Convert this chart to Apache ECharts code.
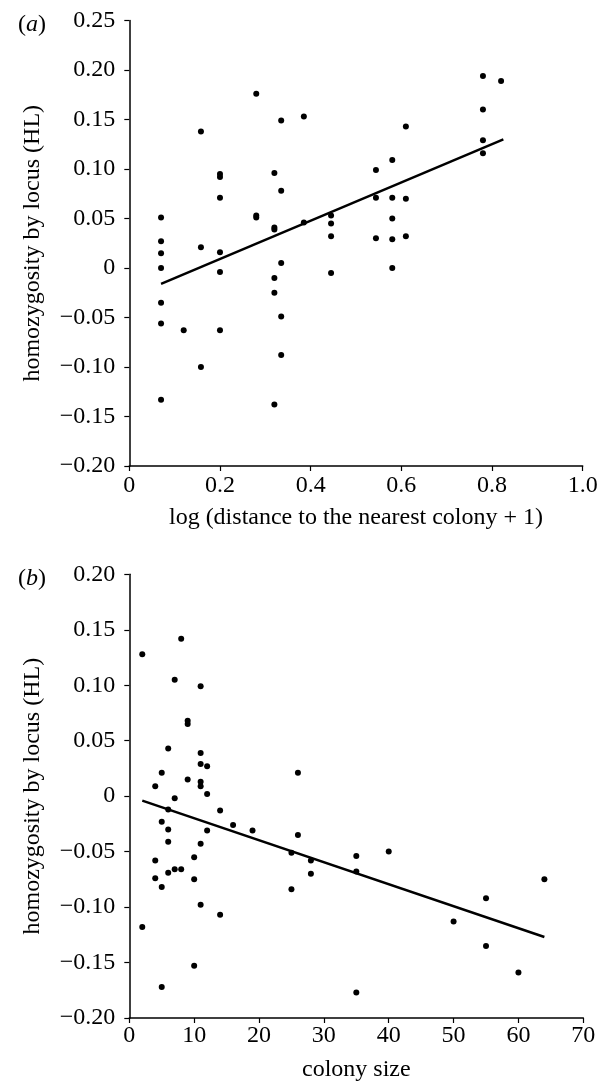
<!DOCTYPE html>
<html>
<head>
<meta charset="utf-8">
<script src="https://cdn.jsdelivr.net/npm/echarts@6/dist/echarts.min.js"></script>
<style>html,body{margin:0;padding:0;background:#fff}#c{width:607px;height:1083px}</style>
</head>
<body>
<div id="c"></div>
<script>
// Panel (a): log(distance to nearest colony + 1) vs HL
const distA = [0.07,0.07,0.07,0.07,0.07,0.07,0.07,0.12,0.158,0.158,0.158,0.20,0.20,0.20,0.20,0.20,0.20,0.28,0.28,0.28,0.32,0.32,0.32,0.32,0.32,0.32,0.335,0.335,0.335,0.335,0.335,0.385,0.385,0.445,0.445,0.445,0.445,0.544,0.544,0.544,0.58,0.58,0.58,0.58,0.58,0.61,0.61,0.61,0.78,0.78,0.78,0.78,0.82];
const hlA   = [0.051,0.027,0.015,0.000,-0.035,-0.056,-0.133,-0.063,0.138,0.021,-0.100,0.095,0.092,0.071,0.016,-0.004,-0.063,0.176,0.053,0.051,0.096,0.041,0.039,-0.010,-0.025,-0.138,0.149,0.078,0.005,-0.049,-0.088,0.153,0.046,0.053,0.045,0.032,-0.005,0.099,0.071,0.030,0.109,0.071,0.050,0.029,0.000,0.143,0.070,0.032,0.194,0.160,0.129,0.116,0.189];
const fitAx = [0.07, 0.825];
const fitAy = [-0.016, 0.130];

// Panel (b): colony size vs HL
const sizeB = [2,2,4,4,4,5,5,5,5,6,6,6,6,6,7,7,7,8,8,9,9,9,10,10,10,11,11,11,11,11,11,11,12,12,12,14,14,16,19,25,25,26,26,28,28,35,35,35,40,50,55,55,60,64];
const hlB   = [0.128,-0.118,0.009,-0.058,-0.074,0.021,-0.023,-0.082,-0.172,0.043,-0.012,-0.030,-0.041,-0.069,0.105,-0.002,-0.066,0.142,-0.066,0.068,0.065,0.015,-0.055,-0.075,-0.153,0.099,0.039,0.029,0.013,0.009,-0.043,-0.098,0.027,0.002,-0.031,-0.013,-0.107,-0.026,-0.031,-0.051,-0.084,0.021,-0.035,-0.058,-0.070,-0.054,-0.068,-0.177,-0.050,-0.113,-0.092,-0.135,-0.159,-0.075];
const fitBx = [2, 64];
const fitBy = [-0.004, -0.127];

const xTitleA = 'log (distance to the nearest colony + 1)';
const xTitleB = 'colony size';
const yTitle = 'homozygosity by locus (HL)';

const FONT = '"Liberation Serif", "DejaVu Serif", serif';
const FS = 24;
const zip = (a, b) => a.map((v, i) => [v, b[i]]);
const yFmt = v => Math.abs(v) < 1e-9 ? '0' : v.toFixed(2).replace('-', '\u2212');

function axisBase() {
  return {
    axisLine: { show: true, onZero: false, lineStyle: { color: '#000', width: 1.5 } },
    axisTick: { show: true, inside: false, length: 5, lineStyle: { color: '#000', width: 1.2 } },
    splitLine: { show: false },
    axisLabel: { color: '#000', fontFamily: FONT, fontSize: FS },
    nameTextStyle: { color: '#000', fontFamily: FONT, fontSize: FS }
  };
}
const panelRich = {
  p: { fontFamily: FONT, fontSize: FS, fontWeight: 'normal', color: '#000' },
  i: { fontFamily: FONT, fontSize: FS, fontWeight: 'normal', fontStyle: 'italic', color: '#000' }
};

const chart = echarts.init(document.getElementById('c'), null, { renderer: 'canvas' });
const option = {
  animation: false,
  backgroundColor: '#fff',
  title: [
    { text: '{p|(}{i|a}{p|)}', left: 13, top: 8, textStyle: { fontWeight: 'normal', rich: panelRich } },
    { text: '{p|(}{i|b}{p|)}', left: 13, top: 562, textStyle: { fontWeight: 'normal', rich: panelRich } }
  ],
  grid: [
    { left: 129.3, top: 20.5, width: 453.4, height: 445.5 },
    { left: 129.3, top: 574.3, width: 454, height: 446 }
  ],
  xAxis: [
    Object.assign(axisBase(), { gridIndex: 0, type: 'value', min: 0, max: 1, interval: 0.2,
      name: xTitleA, nameLocation: 'middle', nameGap: 40,
      axisLabel: Object.assign(axisBase().axisLabel, { margin: 8, formatter: v => v === 0 ? '0' : v.toFixed(1) }) }),
    Object.assign(axisBase(), { gridIndex: 1, type: 'value', min: 0, max: 70, interval: 10,
      name: xTitleB, nameLocation: 'middle', nameGap: 40,
      axisLabel: Object.assign(axisBase().axisLabel, { margin: 6 }) })
  ],
  yAxis: [
    Object.assign(axisBase(), { gridIndex: 0, type: 'value', min: -0.20, max: 0.25, interval: 0.05,
      name: yTitle, nameLocation: 'middle', nameGap: 85, nameRotate: 90,
      axisLabel: Object.assign(axisBase().axisLabel, { margin: 14, formatter: yFmt }) }),
    Object.assign(axisBase(), { gridIndex: 1, type: 'value', min: -0.20, max: 0.20, interval: 0.05,
      name: yTitle, nameLocation: 'middle', nameGap: 85, nameRotate: 90,
      axisLabel: Object.assign(axisBase().axisLabel, { margin: 14, formatter: yFmt }) })
  ],
  series: [
    { type: 'scatter', xAxisIndex: 0, yAxisIndex: 0, data: zip(distA, hlA), symbol: 'circle', symbolSize: 6,
      itemStyle: { color: '#000', opacity: 1 }, silent: true },
    { type: 'line', xAxisIndex: 0, yAxisIndex: 0, data: zip(fitAx, fitAy), symbol: 'none',
      lineStyle: { color: '#000', width: 2.5 }, silent: true },
    { type: 'scatter', xAxisIndex: 1, yAxisIndex: 1, data: zip(sizeB, hlB), symbol: 'circle', symbolSize: 6,
      itemStyle: { color: '#000', opacity: 1 }, silent: true },
    { type: 'line', xAxisIndex: 1, yAxisIndex: 1, data: zip(fitBx, fitBy), symbol: 'none',
      lineStyle: { color: '#000', width: 2.5 }, silent: true }
  ]
};
chart.setOption(option);
</script>
</body>
</html>
